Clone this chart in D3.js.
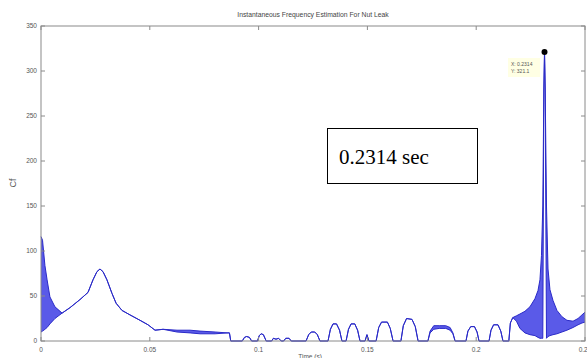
<!DOCTYPE html>
<html><head><meta charset="utf-8">
<script src="https://cdn.jsdelivr.net/npm/d3@7"></script>
<style>body{margin:0;background:#fff}svg{display:block}</style>
</head><body>
<svg id="c" width="587" height="358"></svg>
<script>
const titleText = "Instantaneous Frequency Estimation For Nut Leak";
const xLabelText = "Time (s)";
const yLabelText = "Cf";
const xTicks = [0, 0.05, 0.1, 0.15, 0.2, 0.25];
const xTickLabels = ["0", "0.05", "0.1", "0.15", "0.2", "0.25"];
const yTicks = [0, 50, 100, 150, 200, 250, 300, 350];
const yTickLabels = ["0", "50", "100", "150", "200", "250", "300", "350"];

const time = [0,0.0007,0.0018,0.0028,0.0041,0.0064,0.0097,0.0133,0.0179,0.0216,0.0239,0.0257,0.0271,0.0285,0.0303,0.0326,0.0345,0.0372,0.0409,0.0455,0.0492,0.0524,0.0561,0.0625,0.0685,0.0731,0.0800,0.0855,0.0866,0.0872,
0.0925,0.0935,0.0945,0.0958,0.0968,0.0995,0.1003,0.1012,0.1022,0.1035,0.1060,0.1068,0.1080,0.1092,0.1104,0.1115,0.1125,0.1140,0.1150,
0.1218,0.1230,0.1242,0.1258,0.1270,0.1282,0.1319,0.1330,0.1342,0.1358,0.1372,0.1383,0.1402,0.1413,0.1425,0.1442,0.1455,0.1466,0.1489,0.1498,0.1507,
0.1540,0.1552,0.1565,0.1592,0.1605,0.1618,0.1654,0.1665,0.1680,0.1705,0.1720,0.1733,0.1778,0.1788,0.1805,0.1830,0.1860,0.1880,0.1893,0.1903,
0.1953,0.1962,0.1975,0.1992,0.2004,0.2013,0.2059,0.2068,0.2080,0.2100,0.2113,0.2123,0.2150,0.2157,0.2168,0.2185,0.2201,0.2224,0.2247,0.2270,0.2284,0.2293,0.2300,0.2306,
0.2311,0.2314,0.2317,0.2323,0.2330,0.2339,0.2353,0.2371,0.2394,0.2417,0.2445,0.2468,0.2486,0.2500];
const upper = [116,112,84,68,49,38,31,37,46,54,68,77,80,77,68,53,42,34,29,23,18,12,13,12,12,11,10,9,9,0,
0,4,5,4,0,0,6,8,7,0,0,3,2,3,0,0,3,3,0,
0,7,10,10,7,0,0,13,19,19,12,0,0,13,19,19,12,0,0,7,0,
0,15,21,21,14,0,0,17,25,24,16,0,0,11,17,17,17,15,9,0,
0,11,16,16,10,0,0,12,18,18,11,0,0,20,26,28,30,33,38,47,56,68,95,150,
280,321,280,150,80,57,45,34,27,23,22,25,29,32];
const lower = [10,11,13,15,19,25,31,37,46,54,68,77,80,77,68,53,42,34,29,23,18,12,13,10,9,8,8,9,9,0,
0,4,5,4,0,0,6,8,7,0,0,3,2,3,0,0,3,3,0,
0,7,10,10,7,0,0,13,19,19,12,0,0,13,19,19,12,0,0,7,0,
0,15,21,21,14,0,0,17,25,24,16,0,0,9,13,14,14,12,8,0,
0,11,16,16,10,0,0,12,18,18,11,0,0,20,26,22,14,9,7,6,4,3,3,3,
280,321,280,3,5,6,7,8,10,12,15,18,20,21];

const peakTime = [0.2314];
const peakValue = [321];
const tipLines = ["X: 0.2314", "Y: 321.1"];
const noteText = "0.2314 sec";

const svg = d3.select("#c");
const L = 41, R = 585, T = 26, B = 341;
const x = d3.scaleLinear().domain([0, 0.25]).range([L, R]);
const y = d3.scaleLinear().domain([0, 350]).range([B, T]);
const data = time.map((t, i) => ({t, u: upper[i], l: lower[i]}));

svg.append("rect").attr("width", 587).attr("height", 358).attr("fill", "#fff");

// signal band
svg.append("path").datum(data)
  .attr("d", d3.area().x(d => x(d.t)).y0(d => y(d.l)).y1(d => y(d.u)))
  .attr("fill", "#4848e6").attr("opacity", 0.9);
svg.append("path").datum(data)
  .attr("d", d3.line().x(d => x(d.t)).y(d => y(d.u)))
  .attr("fill", "none").attr("stroke", "#2a2ac8").attr("stroke-width", 1);
svg.append("path").datum(data)
  .attr("d", d3.line().x(d => x(d.t)).y(d => y(d.l)))
  .attr("fill", "none").attr("stroke", "#2a2ac8").attr("stroke-width", 1);

// frame
const g = svg.append("g").attr("stroke", "#8a8a8a").attr("fill", "none");
g.append("rect").attr("x", L).attr("y", T).attr("width", R - L).attr("height", B - T);
xTicks.forEach(v => {
  g.append("line").attr("x1", x(v)).attr("x2", x(v)).attr("y1", B).attr("y2", B - 4);
  g.append("line").attr("x1", x(v)).attr("x2", x(v)).attr("y1", T).attr("y2", T + 4);
});
yTicks.forEach(v => {
  g.append("line").attr("x1", L).attr("x2", L + 4).attr("y1", y(v)).attr("y2", y(v));
  g.append("line").attr("x1", R).attr("x2", R - 4).attr("y1", y(v)).attr("y2", y(v));
});

const font = "Liberation Sans, Arial, sans-serif";
xTicks.forEach((v, i) => {
  svg.append("text").attr("x", x(v)).attr("y", 352).attr("text-anchor", "middle")
    .attr("font-family", font).attr("font-size", 6.5).attr("fill", "#555").text(xTickLabels[i]);
});
yTicks.forEach((v, i) => {
  svg.append("text").attr("x", 37).attr("y", y(v) + 2.2).attr("text-anchor", "end")
    .attr("font-family", font).attr("font-size", 6.5).attr("fill", "#555").text(yTickLabels[i]);
});
svg.append("text").attr("x", 313).attr("y", 17).attr("text-anchor", "middle")
  .attr("font-family", font).attr("font-size", 6.8).attr("fill", "#444").text(titleText);
svg.append("text").attr("x", 310).attr("y", 359).attr("text-anchor", "middle")
  .attr("font-family", font).attr("font-size", 6.5).attr("fill", "#555").text(xLabelText);
svg.append("text").attr("transform", "translate(16,183) rotate(-90)").attr("text-anchor", "middle")
  .attr("font-family", font).attr("font-size", 9).attr("fill", "#555").text(yLabelText);

// peak marker & datatip
svg.append("rect").attr("x", 508).attr("y", 58).attr("width", 32).attr("height", 19)
  .attr("fill", "#ffffe4");
tipLines.forEach((s, i) => {
  svg.append("text").attr("x", 511).attr("y", 66 + i * 7).attr("font-family", font)
    .attr("font-size", 5).attr("fill", "#555").text(s);
});
svg.selectAll("circle.pk").data(peakTime).enter().append("circle")
  .attr("cx", (d) => x(d)).attr("cy", (d, i) => y(peakValue[i])).attr("r", 3).attr("fill", "#000");

// annotation box
svg.append("rect").attr("x", 327.5).attr("y", 128.5).attr("width", 150).attr("height", 55)
  .attr("fill", "#fff").attr("stroke", "#000").attr("stroke-width", 1);
svg.append("text").attr("x", 339).attr("y", 164).attr("font-family", "Liberation Serif, Times New Roman, serif")
  .attr("font-size", 21).attr("fill", "#000").text(noteText);
</script>
</body></html>
